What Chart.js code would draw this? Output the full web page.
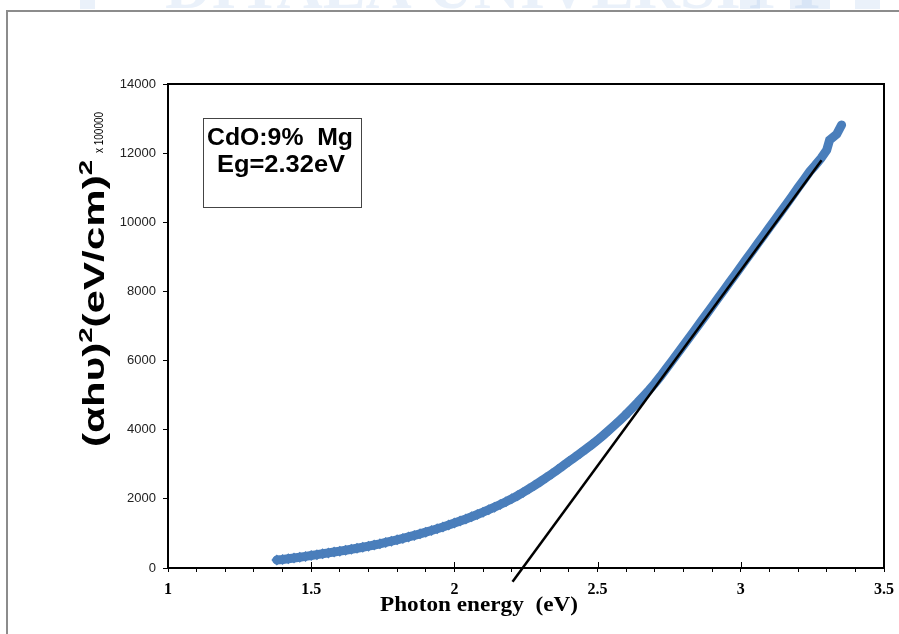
<!DOCTYPE html>
<html lang="en">
<head>
<meta charset="UTF-8">
<title>CdO:9% Mg Tauc plot</title>
<script src="https://cdn.jsdelivr.net/npm/chart.js"></script>
<style>
  html, body { margin: 0; padding: 0; background: #fff; }
  #wrap { position: relative; width: 899px; height: 634px; }
</style>
</head>
<body>
<div id="wrap"><canvas id="chart"></canvas></div>
<script>
// photon energy (eV) and (ahv)^2
const energy = [
  1.38, 1.40, 1.42, 1.44, 1.46, 1.48, 1.50, 1.52, 1.54, 1.56, 1.58, 1.60,
  1.62, 1.64, 1.66, 1.68, 1.70, 1.72, 1.74, 1.76, 1.78, 1.80, 1.82, 1.84,
  1.86, 1.88, 1.90, 1.92, 1.94, 1.96, 1.98, 2.00, 2.02, 2.04, 2.06, 2.08,
  2.10, 2.12, 2.14, 2.16, 2.18, 2.20, 2.22, 2.24, 2.26, 2.28, 2.30, 2.32,
  2.34, 2.36, 2.38, 2.40, 2.42, 2.44, 2.46, 2.48, 2.50, 2.52, 2.54, 2.56,
  2.58, 2.60, 2.62, 2.64, 2.66, 2.68, 2.70, 2.72, 2.74, 2.76, 2.78, 2.80,
  2.82, 2.84, 2.86, 2.88, 2.90, 2.92, 2.94, 2.96, 2.98, 3.00, 3.02, 3.04,
  3.06, 3.08, 3.10, 3.12, 3.14, 3.16, 3.18, 3.20, 3.22, 3.24, 3.26, 3.28,
  3.30, 3.31, 3.335, 3.352
];
const absorb = [
  230, 248, 270, 290, 312, 336, 362, 386, 410, 436, 462, 488,
  514, 542, 570, 600, 632, 666, 700, 738, 776, 816, 856, 898,
  942, 988, 1036, 1084, 1134, 1186, 1242, 1300, 1360, 1420, 1482, 1548,
  1616, 1686, 1760, 1836, 1916, 2000, 2090, 2186, 2286, 2390, 2498, 2608,
  2722, 2840, 2960, 3082, 3200, 3320, 3444, 3570, 3700, 3840, 3986, 4136,
  4290, 4450, 4620, 4790, 4970, 5150, 5340, 5550, 5770, 5990, 6215, 6440,
  6665, 6890, 7115, 7340, 7570, 7800, 8025, 8255, 8480, 8710, 8940, 9165,
  9395, 9620, 9850, 10080, 10305, 10535, 10765, 11000, 11230, 11460, 11650, 11850,
  12090, 12380, 12550, 12815
];

// straight-line fit (extrapolated to the energy axis)
const fitX = [2.203, 3.282];
const fitY = [-400, 11795];

const xMin = 1, xMax = 3.5, yMin = 0, yMax = 14000;
const majorX = [1.5, 2, 2.5, 3];
const noteLines = ['CdO:9%  Mg', 'Eg=2.32eV'];
const xTitle = 'Photon energy  (eV)';

const blue = '#4a7ebb';

// draw text squeezed/stretched to a given width
function fitText(c, txt, x, y, width) {
  const w = c.measureText(txt).width;
  c.save();
  c.translate(x, y);
  c.scale(width / w, 1);
  c.fillText(txt, 0, 0);
  c.restore();
}

const decor = {
  id: 'decor',
  beforeDraw(chart) {
    const c = chart.ctx;
    c.save();
    c.fillStyle = '#fff';
    c.fillRect(0, 0, chart.width, chart.height);
    // faint watermark cut off by the top edge
    c.fillStyle = 'rgba(140,180,230,0.18)';
    c.fillRect(80, 0, 15, 9);
    c.fillRect(740, 0, 20, 9);
    c.fillRect(790, 0, 40, 9);
    c.fillRect(855, 0, 25, 9);
    c.font = 'bold 64px "Liberation Serif"';
    c.textBaseline = 'alphabetic';
    c.fillText('DIYALA UNIVERSITY', 165, 8);
    // outer frame
    c.strokeStyle = '#8c8c8c';
    c.lineWidth = 2;
    c.beginPath();
    c.moveTo(7, chart.height);
    c.lineTo(7, 11);
    c.lineTo(chart.width, 11);
    c.stroke();
    c.restore();
  },
  afterDraw(chart) {
    const c = chart.ctx;
    const a = chart.chartArea;
    const xs = chart.scales.x;
    c.save();
    c.strokeStyle = '#000';
    c.lineWidth = 2;
    c.strokeRect(a.left, a.top, a.right - a.left, a.bottom - a.top);
    // major ticks pointing into the plot
    c.lineWidth = 1;
    c.beginPath();
    majorX.forEach(v => {
      const px = Math.round(xs.getPixelForValue(v)) + 0.5;
      c.moveTo(px, a.bottom);
      c.lineTo(px, a.bottom - 6);
    });
    c.stroke();

    // note box
    c.fillStyle = '#fff';
    c.fillRect(203, 118, 158, 89);
    c.strokeStyle = '#444';
    c.lineWidth = 1;
    c.strokeRect(203.5, 118.5, 158, 89);
    c.fillStyle = '#000';
    c.font = 'bold 24px "Liberation Sans", Arial';
    c.textBaseline = 'alphabetic';
    fitText(c, noteLines[0], 207, 145, 146);
    fitText(c, noteLines[1], 217, 172, 128);

    // x title
    c.font = 'bold 21px "Liberation Serif"';
    fitText(c, xTitle, 380, 611, 198);

    // y title, rotated; drawn from its start (bottom) upwards
    c.translate(104, 447);
    c.rotate(-Math.PI / 2);
    const parts = [
      ['(αhυ)', 'bold 29px "Liberation Sans"', 0],
      ['2', 'bold 19px "Liberation Sans"', -12],
      ['(eV/cm)', 'bold 29px "Liberation Sans"', 0],
      ['2', 'bold 19px "Liberation Sans"', -12]
    ];
    let w = 0;
    parts.forEach(p => { c.font = p[1]; w += c.measureText(p[0]).width; });
    c.save();
    c.scale(287 / w, 1);
    let x0 = 0;
    parts.forEach(p => {
      c.font = p[1];
      c.fillText(p[0], x0, p[2]);
      x0 += c.measureText(p[0]).width;
    });
    c.restore();
    c.font = '12px "Liberation Sans"';
    fitText(c, 'x 100000', 294, -1, 41);
    c.restore();
  }
};

new Chart(document.getElementById('chart'), {
  type: 'scatter',
  data: {
    datasets: [
      {
        label: 'fit',
        data: fitX.map((x, i) => ({ x: x, y: fitY[i] })),
        showLine: true,
        borderColor: '#000',
        borderWidth: 2.5,
        pointRadius: 0,
        clip: false
      },
      {
        label: 'CdO:9% Mg',
        data: energy.map((e, i) => ({ x: e, y: absorb[i] })),
        showLine: true,
        borderColor: blue,
        borderCapStyle: 'round',
        segment: {
          borderWidth: ctx => ctx.p0.parsed.x < 2.6 ? 9 : 0
        },
        pointStyle: 'rectRot',
        pointRadius: ctx => {
          const p = ctx.raw;
          return p && p.x < 2.6 ? 5.5 : 4;
        },
        pointBackgroundColor: blue,
        pointBorderColor: blue,
        pointBorderWidth: 0
      }
    ]
  },
  options: {
    responsive: true,
    maintainAspectRatio: false,
    animation: false,
    events: [],
    layout: { padding: { left: 0, top: 84, right: 15, bottom: 0 } },
    plugins: { legend: { display: false }, tooltip: { enabled: false } },
    scales: {
      x: {
        type: 'linear',
        min: xMin,
        max: xMax,
        afterFit: s => { s.height = 66; s.paddingLeft = 0; s.paddingRight = 0; },
        border: { color: '#000', width: 2 },
        grid: { drawOnChartArea: false, color: '#000', tickLength: 4 },
        ticks: {
          stepSize: 0.1,
          autoSkip: false,
          maxRotation: 0,
          padding: 8,
          color: '#000',
          font: { family: '"Liberation Serif"', size: 16, weight: 'bold' },
          callback: v => {
            const r = Math.round(v * 10) / 10;
            return Math.abs(r * 2 - Math.round(r * 2)) < 1e-6 ? String(r) : '';
          }
        }
      },
      y: {
        min: yMin,
        max: yMax,
        afterFit: s => { s.width = 168; },
        border: { color: '#000', width: 2 },
        grid: { drawOnChartArea: false, color: '#000', tickLength: 5 },
        ticks: {
          stepSize: 2000,
          padding: 7,
          color: '#222',
          font: { family: '"Liberation Sans"', size: 13 },
          callback: v => String(v)
        }
      }
    }
  },
  plugins: [decor]
});
</script>
</body>
</html>
